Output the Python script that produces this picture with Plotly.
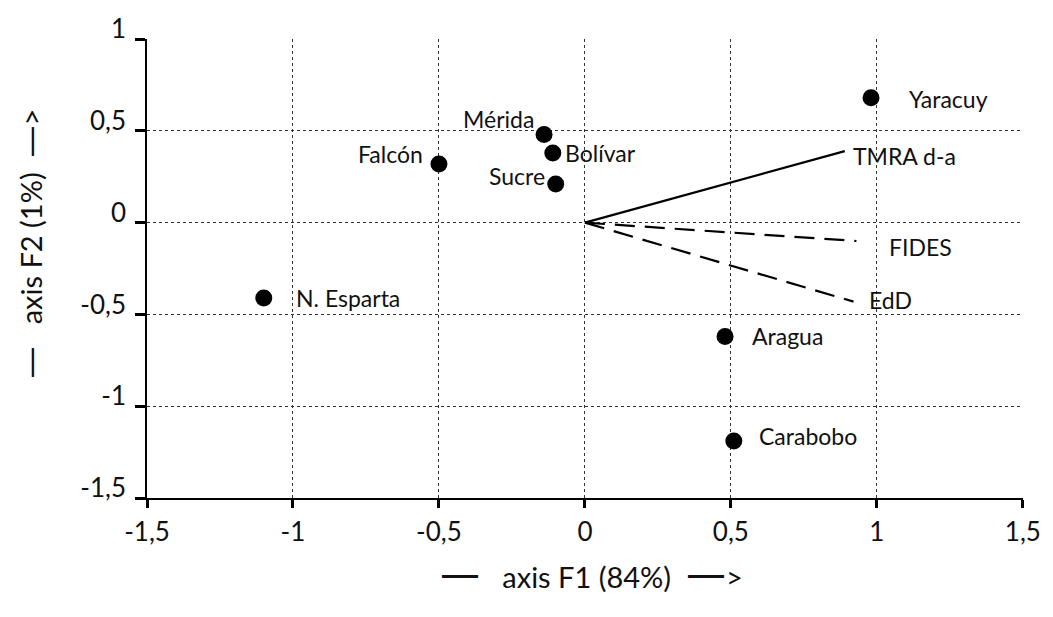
import plotly.graph_objects as go

# Observations (states) projected on the first two factorial axes
states = ["Yaracuy", "Mérida", "Bolívar", "Sucre", "Falcón",
          "N. Esparta", "Aragua", "Carabobo"]
state_f1 = [0.98, -0.14, -0.11, -0.10, -0.50, -1.10, 0.48, 0.51]
state_f2 = [0.68, 0.48, 0.38, 0.21, 0.32, -0.41, -0.62, -1.19]

# Variables (loading vectors drawn from the origin)
variables = ["TMRA d-a", "FIDES", "EdD"]
var_f1 = [0.89, 0.93, 0.92]
var_f2 = [0.39, -0.10, -0.43]
var_dash = ["solid", "dash", "dash"]

# Axis ticks with comma decimals
x_tick_vals = [-1.5, -1, -0.5, 0, 0.5, 1, 1.5]
x_tick_text = ["-1,5", "-1", "-0,5", "0", "0,5", "1", "1,5"]
y_tick_vals = [-1.5, -1, -0.5, 0, 0.5, 1]
y_tick_text = ["-1,5", "-1", "-0,5", "0", "0,5", "1"]

# Axis titles
x_title = "axis F1 (84%)"
y_title = "axis F2 (1%)"

# Label placement: (xanchor, xshift, yshift) in pixels
state_label_pos = {
    "Yaracuy": ("left", 36, -1),
    "Mérida": ("right", -8, 16),
    "Bolívar": ("left", 10, 0),
    "Sucre": ("right", -9, 8),
    "Falcón": ("right", -14, 10),
    "N. Esparta": ("left", 30, 0),
    "Aragua": ("left", 25, 0),
    "Carabobo": ("left", 23, 5),
}
var_label_pos = {
    "TMRA d-a": ("left", 6, -5),
    "FIDES": ("left", 31, -6),
    "EdD": ("left", 13, 2),
}

FONT = "Lato, 'Open Sans', sans-serif"
INK = "#111111"
LABEL_SIZE = 23
TITLE_SIZE = 29
TICK_SIZE = 26


def rule(n, size):
    """Continuous rule built from em dashes in a font whose dashes join."""
    return ("<span style='font-family:DejaVu Sans;font-size:%dpx'>" % size
            + "—" * n + "</span>")


fig = go.Figure()

for name, x1, y1, style in zip(variables, var_f1, var_f2, var_dash):
    fig.add_trace(go.Scatter(
        x=[0, x1], y=[0, y1], mode="lines",
        line=dict(color="black", width=2.2,
                  dash="solid" if style == "solid" else "20px,10px"),
        showlegend=False, hoverinfo="skip",
    ))

fig.add_trace(go.Scatter(
    x=state_f1, y=state_f2, mode="markers",
    marker=dict(color="black", size=17),
    text=states, showlegend=False,
))

annotations = []
for names, xs_, ys_, pos in ((states, state_f1, state_f2, state_label_pos),
                             (variables, var_f1, var_f2, var_label_pos)):
    for name, x, y in zip(names, xs_, ys_):
        anchor, dx, dy = pos[name]
        annotations.append(dict(x=x, y=y, text=name, showarrow=False,
                                xanchor=anchor, yanchor="middle",
                                xshift=dx, yshift=dy,
                                font=dict(family=FONT, size=LABEL_SIZE, color=INK)))

# Axis titles with drawn-out arrows
annotations.append(dict(
    xref="paper", yref="paper", x=0.507, y=-0.166,
    text=rule(1, 40) + "&nbsp;&nbsp; " + x_title + " &nbsp;" + rule(1, 40) + ">",
    showarrow=False, xanchor="center", yanchor="middle",
    font=dict(family=FONT, size=TITLE_SIZE, color=INK),
))
annotations.append(dict(
    xref="paper", yref="paper", x=-0.132, y=0.555, textangle=-90,
    text=rule(1, 32) + "&nbsp;&nbsp; " + y_title + " &nbsp;" + rule(1, 32) + ">",
    showarrow=False, xanchor="center", yanchor="middle",
    font=dict(family=FONT, size=TITLE_SIZE, color=INK),
))

fig.update_layout(
    width=1053, height=617,
    margin=dict(l=147, r=20, t=33, b=119),
    paper_bgcolor="white", plot_bgcolor="white",
    font=dict(family=FONT, size=22, color=INK),
    annotations=annotations,
    xaxis=dict(
        range=[-1.5, 1.5005], tickvals=x_tick_vals, ticktext=x_tick_text,
        showgrid=True, gridcolor="#333", griddash="dot", gridwidth=1,
        showline=True, linecolor="black", linewidth=1.5,
        ticks="outside", ticklen=8, tickwidth=2.5, tickcolor="black",
        ticklabelstandoff=2, ticklabeloverflow="allow",
        tickfont=dict(family=FONT, size=TICK_SIZE, color=INK),
        zeroline=False,
    ),
    yaxis=dict(
        range=[-1.5, 1.0005], tickvals=y_tick_vals, ticktext=y_tick_text,
        showgrid=True, gridcolor="#333", griddash="dot", gridwidth=1,
        showline=True, linecolor="black", linewidth=1.5,
        ticks="outside", ticklen=10, tickwidth=2.5, tickcolor="black",
        ticklabelstandoff=4, ticklabelshift=-10, ticklabeloverflow="allow",
        tickfont=dict(family=FONT, size=TICK_SIZE, color=INK),
        zeroline=False,
    ),
)

fig.write_html("out.html")
